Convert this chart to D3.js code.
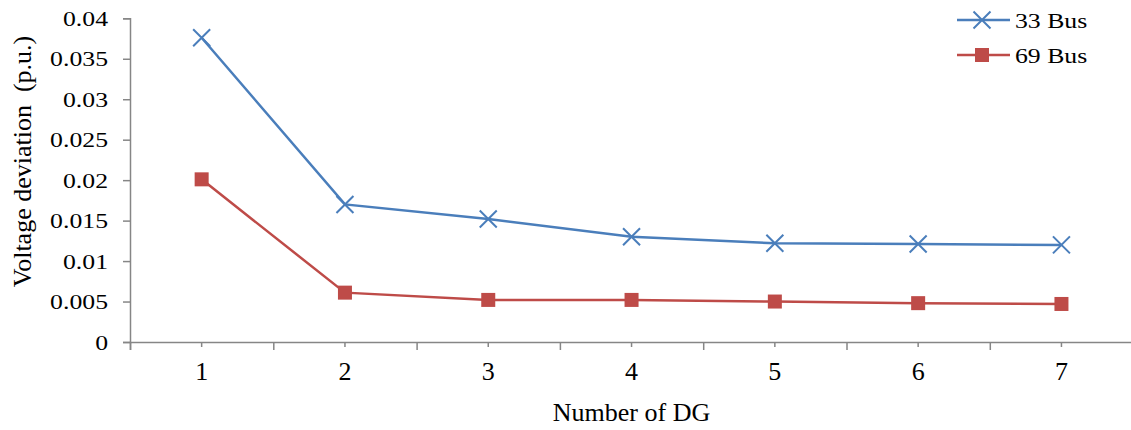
<!DOCTYPE html>
<html>
<head>
<meta charset="utf-8">
<script src="https://cdn.jsdelivr.net/npm/d3@7"></script>
<style>
  html, body { margin: 0; padding: 0; background: #fff; }
  svg { display: block; }
  text { font-family: "Liberation Serif", "Times New Roman", serif; fill: #000; }
</style>
</head>
<body>
<svg id="chart" width="1131" height="430"></svg>
<script>
// Number of DG placed
const categories = ["1", "2", "3", "4", "5", "6", "7"];
// Voltage deviation (p.u.) per test system
const bus33 = [0.0376, 0.0170, 0.0152, 0.0130, 0.0122, 0.0121, 0.0120];
const bus69 = [0.0201, 0.0061, 0.0052, 0.0052, 0.0050, 0.0048, 0.0047];
const yTicks = [0, 0.005, 0.01, 0.015, 0.02, 0.025, 0.03, 0.035, 0.04];
const yTickLabels = ["0", "0.005", "0.01", "0.015", "0.02", "0.025", "0.03", "0.035", "0.04"];
const seriesNames = ["33 Bus", "69 Bus"];

const svg = d3.select("#chart");
const plotLeft = 130, plotTop = 18.3, plotBottom = 342, bandW = 143.3;
const plotRight = plotLeft + categories.length * bandW;

const axisColor = "#868686";
const blue = "#4a7ebb", red = "#be4b48";

const x = d3.scaleBand().domain(categories).range([plotLeft, plotRight]).padding(0);
const xEdge = d3.scaleLinear().domain([0, categories.length]).range([plotLeft, plotRight]);
const y = d3.scaleLinear().domain([0, 0.04]).range([plotBottom, plotTop]);
const cx = d => x(d) + x.bandwidth() / 2;

// Y axis
const gy = svg.append("g").attr("transform", `translate(${plotLeft},0)`)
  .call(d3.axisLeft(y).tickValues(yTicks).tickSize(7).tickPadding(15)
    .tickFormat((d, i) => yTickLabels[i]));
gy.select(".domain").attr("stroke", axisColor).attr("stroke-width", 1.5);
gy.selectAll(".tick line").attr("stroke", axisColor).attr("stroke-width", 1.5);
gy.selectAll(".tick text").each(function () {
  const t = d3.select(this);
  const tx = +t.attr("x");
  t.attr("x", 0).attr("transform", `translate(${tx},0) scale(1.17,1)`)
    .attr("font-size", 22).attr("font-family", null);
});

// X axis: boundary ticks
const gxEdge = svg.append("g").attr("transform", `translate(0,${plotBottom})`)
  .call(d3.axisBottom(xEdge).tickValues(d3.range(categories.length + 1)).tickSize(8).tickFormat(""));
gxEdge.select(".domain").attr("stroke", axisColor).attr("stroke-width", 1.5);
gxEdge.selectAll(".tick line").attr("stroke", axisColor).attr("stroke-width", 1.5);

// X axis: category ticks and labels
const gx = svg.append("g").attr("transform", `translate(0,${plotBottom})`)
  .call(d3.axisBottom(x).tickSize(5).tickPadding(15));
gx.select(".domain").remove();
gx.selectAll(".tick line").attr("stroke", axisColor).attr("stroke-width", 1.5);
gx.selectAll(".tick text").attr("font-size", 26).attr("font-family", null);

// Axis titles
svg.append("text")
  .attr("x", (plotLeft + plotRight) / 2).attr("y", 421)
  .attr("text-anchor", "middle").attr("font-size", 26)
  .text("Number of DG");
svg.append("text")
  .attr("transform", "translate(31,161.5) rotate(-90)")
  .attr("text-anchor", "middle").attr("font-size", 26)
  .style("white-space", "pre")
  .text("Voltage deviation  (p.u.)");

// Series
const line = d3.line().x((d, i) => cx(categories[i])).y(d => y(d));
const crossPath = "M-8.5,-8.5L8.5,8.5M-8.5,8.5L8.5,-8.5";

svg.append("path").datum(bus33).attr("d", line)
  .attr("fill", "none").attr("stroke", blue).attr("stroke-width", 2.5);
svg.append("path").datum(bus69).attr("d", line)
  .attr("fill", "none").attr("stroke", red).attr("stroke-width", 2.5);

svg.selectAll(".m33").data(bus33).enter().append("path")
  .attr("class", "m33")
  .attr("transform", (d, i) => `translate(${cx(categories[i])},${y(d)})`)
  .attr("d", crossPath).attr("stroke", blue).attr("stroke-width", 2).attr("fill", "none");
svg.selectAll(".m69").data(bus69).enter().append("rect")
  .attr("class", "m69")
  .attr("x", (d, i) => cx(categories[i]) - 7).attr("y", d => y(d) - 7)
  .attr("width", 14).attr("height", 14).attr("fill", red);

// Legend
const legend = svg.append("g");
const legendRows = [
  { name: seriesNames[0], color: blue, marker: "cross", yy: 20 },
  { name: seriesNames[1], color: red, marker: "square", yy: 55 }
];
legendRows.forEach(r => {
  legend.append("line").attr("x1", 957).attr("x2", 1010).attr("y1", r.yy).attr("y2", r.yy)
    .attr("stroke", r.color).attr("stroke-width", 2.5);
  if (r.marker === "cross") {
    legend.append("path").attr("transform", `translate(982,${r.yy})`).attr("d", crossPath)
      .attr("stroke", r.color).attr("stroke-width", 2).attr("fill", "none");
  } else {
    legend.append("rect").attr("x", 975).attr("y", r.yy - 7).attr("width", 14).attr("height", 14)
      .attr("fill", r.color);
  }
  legend.append("text").attr("transform", `translate(1015,${r.yy + 8}) scale(1.17,1)`)
    .attr("font-size", 22).text(r.name);
});
</script>
</body>
</html>
